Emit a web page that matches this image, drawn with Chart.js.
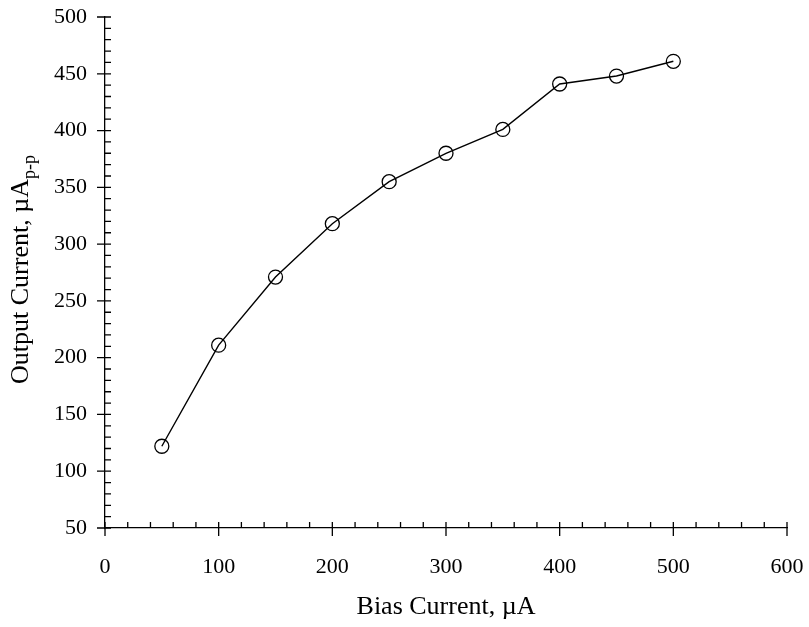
<!DOCTYPE html>
<html lang="en">
<head>
  <meta charset="UTF-8">
  <title>Output Current vs Bias Current</title>
  <script src="https://cdn.jsdelivr.net/npm/chart.js"></script>
  <style>
    html, body { margin: 0; padding: 0; background: #fff; }
    #wrap { width: 809px; height: 627px; }
  </style>
</head>
<body>
  <div id="wrap"><canvas id="chart" width="809" height="627"></canvas></div>
  <script>
    // data
    const biasCurrent = [50, 100, 150, 200, 250, 300, 350, 400, 450, 500];
    const outputCurrent = [122, 211, 271, 318, 355, 380, 401, 441, 448, 461];
    const xTicks = [0, 100, 200, 300, 400, 500, 600];
    const yTicks = [50, 100, 150, 200, 250, 300, 350, 400, 450, 500];

    const serif = "'Liberation Serif', 'Times New Roman', serif";
    Chart.defaults.font.family = serif;
    Chart.defaults.color = '#000';

    // tick marks: majors cross the axis, minors point inward
    const axisTicks = {
      id: 'axisTicks',
      afterDraw(chart) {
        const { ctx, scales: { x, y } } = chart;
        const xAxisY = y.getPixelForValue(50);
        const yAxisX = x.getPixelForValue(0);
        ctx.save();
        ctx.strokeStyle = '#000';
        ctx.lineWidth = 1.3;
        ctx.beginPath();
        for (let v = 0; v <= 600; v += 20) {
          const px = x.getPixelForValue(v);
          const major = v % 100 === 0;
          ctx.moveTo(px, xAxisY + (major ? 8 : 0));
          ctx.lineTo(px, xAxisY - 6);
        }
        for (let v = 50; v <= 500; v += 10) {
          const py = y.getPixelForValue(v);
          const major = v % 50 === 0;
          ctx.moveTo(yAxisX - (major ? 8 : 0), py);
          ctx.lineTo(yAxisX + 6, py);
        }
        ctx.stroke();
        ctx.restore();
      }
    };

    // y title with the p-p subscript
    const yTitle = {
      id: 'yTitle',
      afterDraw(chart) {
        const { ctx, chartArea } = chart;
        const main = 'Output Current, µA';
        const sub = 'p-p';
        ctx.save();
        ctx.fillStyle = '#000';
        ctx.translate(21, (chartArea.top + chartArea.bottom) / 2 - 3);
        ctx.rotate(-Math.PI / 2);
        ctx.font = '26px ' + serif;
        const w1 = ctx.measureText(main).width;
        ctx.font = '18px ' + serif;
        const w2 = ctx.measureText(sub).width;
        const start = -(w1 + w2) / 2;
        ctx.textBaseline = 'middle';
        ctx.textAlign = 'left';
        ctx.font = '26px ' + serif;
        ctx.fillText(main, start, 0);
        ctx.font = '18px ' + serif;
        ctx.fillText(sub, start + w1, 9);
        ctx.restore();
      }
    };

    new Chart(document.getElementById('chart'), {
      type: 'scatter',
      data: {
        datasets: [{
          data: biasCurrent.map((b, i) => ({ x: b, y: outputCurrent[i] })),
          showLine: true,
          borderColor: '#000',
          borderWidth: 1.4,
          pointRadius: 7,
          pointHoverRadius: 7,
          pointBorderWidth: 1.3,
          pointBorderColor: '#000',
          pointBackgroundColor: 'rgba(0,0,0,0)',
          tension: 0
        }]
      },
      options: {
        responsive: false,
        animation: false,
        devicePixelRatio: 1,
        layout: { padding: { top: 17, right: 22, bottom: 0, left: 0 } },
        plugins: {
          legend: { display: false },
          tooltip: { enabled: false }
        },
        scales: {
          x: {
            type: 'linear',
            min: 0,
            max: 600,
            afterFit: s => { s.height = 99; s.paddingLeft = 0; s.paddingRight = 0; },
            afterBuildTicks: s => { s.ticks = xTicks.map(v => ({ value: v })); },
            grid: { drawOnChartArea: false, drawTicks: false },
            border: { display: true, color: '#000', width: 1.3 },
            ticks: { autoSkip: false, maxRotation: 0, padding: 26, font: { size: 22 } },
            title: { display: true, text: 'Bias Current, µA', font: { size: 26 }, padding: { top: 0, bottom: 4 } }
          },
          y: {
            type: 'linear',
            min: 50,
            max: 500,
            afterFit: s => { s.width = 105; s.paddingTop = 0; s.paddingBottom = 0; },
            afterBuildTicks: s => { s.ticks = yTicks.map(v => ({ value: v })); },
            grid: { drawOnChartArea: false, drawTicks: false },
            border: { display: true, color: '#000', width: 1.3 },
            ticks: { autoSkip: false, padding: 18, font: { size: 22 } }
          }
        }
      },
      plugins: [axisTicks, yTitle]
    });
  </script>
</body>
</html>
